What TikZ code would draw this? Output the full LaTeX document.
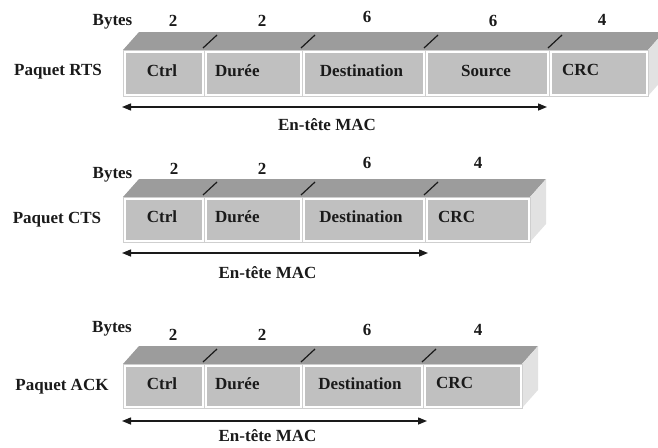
\documentclass[tikz,border=0pt]{standalone}
\usepackage{fontspec}
\setmainfont{Liberation Serif}
\usetikzlibrary{arrows.meta}

\definecolor{topface}{HTML}{9C9C9C}
\definecolor{frontface}{HTML}{C0C0C0}
\definecolor{sideface}{HTML}{E2E2E2}
\definecolor{rim}{HTML}{CFCFCF}
\definecolor{ink}{HTML}{1A1A1A}

\tikzset{
  lbl/.style={font=\fontsize{17}{19}\selectfont\bfseries, text=ink, inner sep=0pt, anchor=base},
  lblw/.style={lbl, anchor=base west},
  span/.style={draw=ink, line width=1.4pt,
    {Triangle[length=9pt,width=7pt]}-{Triangle[length=9pt,width=7pt]}},
  sep/.style={draw=ink, line width=1.2pt},
}

% depth of the 3D box
\def\dx{16}
\def\dy{18}

% top and right faces of a packet box: left, right, top, bottom
\newcommand\pktframe[4]{%
  \fill[topface] (#1,#3) -- ({#1+\dx},{#3-\dy}) -- ({#2+\dx},{#3-\dy}) -- (#2,#3) -- cycle;
  \fill[sideface] (#2,#3) -- ({#2+\dx},{#3-\dy}) -- ({#2+\dx},{#4-\dy}) -- (#2,#4) -- cycle;
}
% one field of the front face: left, right, top, bottom
\newcommand\pktfield[4]{%
  \filldraw[draw=rim, fill=white, line width=0.8pt] (#1,#3) rectangle (#2,#4);
  \fill[frontface] ({#1+2.5},{#3+2.5}) rectangle ({#2-2.5},{#4-2.5});
}
% divider mark on the top face at a field boundary
\newcommand\pktmark[2]{%
  \draw[sep] ({#1-1},{#2-2}) -- ({#1+13},{#2-15});
}

\begin{document}
\begin{tikzpicture}[x=1pt, y=-1pt]
  \useasboundingbox (0,0) rectangle (658,447);
  \clip (0,0) rectangle (658,447);

  % ---------------- RTS ----------------
  \pktframe{123}{648}{50}{96}
  \pktfield{123}{204}{50}{96}
  \pktfield{204}{302}{50}{96}
  \pktfield{302}{425}{50}{96}
  \pktfield{425}{549}{50}{96}
  \pktfield{549}{648}{50}{96}
  \pktmark{204}{50}\pktmark{302}{50}\pktmark{425}{50}\pktmark{549}{50}

  \node[lbl] (rtsBytes) at (112.5,25) {Bytes};
  \node[lbl] (rtsB1) at (173,27) {2};
  \node[lbl] (rtsB2) at (262,27) {2};
  \node[lbl] (rtsB3) at (367,23) {6};
  \node[lbl] (rtsB4) at (493,27) {6};
  \node[lbl] (rtsB5) at (602,25) {4};
  \node[lbl] (rtsName) at (58,75) {Paquet RTS};
  \node[lbl] (rtsCtrl) at (162,76) {Ctrl};
  \node[lblw] (rtsDur) at (215,76) {Durée};
  \node[lbl] (rtsDst) at (361.5,76) {Destination};
  \node[lbl] (rtsSrc) at (486,76) {Source};
  \node[lblw] (rtsCrc) at (562,75) {CRC};
  \coordinate (rtsL) at (122,107);
  \coordinate (rtsR) at (547,107);
  \draw[span] (rtsL) -- (rtsR);
  \node[lbl] (rtsMac) at (327,130) {En-tête MAC};

  % ---------------- CTS ----------------
  \pktframe{123}{530}{197}{242}
  \pktfield{123}{204}{197}{242}
  \pktfield{204}{302}{197}{242}
  \pktfield{302}{425}{197}{242}
  \pktfield{425}{530}{197}{242}
  \pktmark{204}{197}\pktmark{302}{197}\pktmark{425}{197}

  \node[lbl] (ctsBytes) at (112.5,178) {Bytes};
  \node[lbl] (ctsB1) at (174,174) {2};
  \node[lbl] (ctsB2) at (262,174) {2};
  \node[lbl] (ctsB3) at (367,168) {6};
  \node[lbl] (ctsB4) at (478,168) {4};
  \node[lbl] (ctsName) at (57,223) {Paquet CTS};
  \node[lbl] (ctsCtrl) at (162,222) {Ctrl};
  \node[lblw] (ctsDur) at (215,222) {Durée};
  \node[lbl] (ctsDst) at (361,222) {Destination};
  \node[lblw] (ctsCrc) at (438,222) {CRC};
  \coordinate (ctsL) at (122,253);
  \coordinate (ctsR) at (428,253);
  \draw[span] (ctsL) -- (ctsR);
  \node[lbl] (ctsMac) at (267.5,278) {En-tête MAC};

  % ---------------- ACK ----------------
  \pktframe{123}{522}{364}{408}
  \pktfield{123}{204}{364}{408}
  \pktfield{204}{302}{364}{408}
  \pktfield{302}{423}{364}{408}
  \pktfield{423}{522}{364}{408}
  \pktmark{204}{364}\pktmark{302}{364}\pktmark{423}{364}

  \node[lbl] (ackBytes) at (112,332) {Bytes};
  \node[lbl] (ackB1) at (173,340) {2};
  \node[lbl] (ackB2) at (262,340) {2};
  \node[lbl] (ackB3) at (367,335) {6};
  \node[lbl] (ackB4) at (478,335) {4};
  \node[lbl] (ackName) at (62,390) {Paquet ACK};
  \node[lbl] (ackCtrl) at (162,389) {Ctrl};
  \node[lblw] (ackDur) at (215,389) {Durée};
  \node[lbl] (ackDst) at (360,389) {Destination};
  \node[lblw] (ackCrc) at (436,388) {CRC};
  \coordinate (ackL) at (122,421);
  \coordinate (ackR) at (427,421);
  \draw[span] (ackL) -- (ackR);
  \node[lbl] (ackMac) at (267.5,441) {En-tête MAC};
\end{tikzpicture}
\end{document}
